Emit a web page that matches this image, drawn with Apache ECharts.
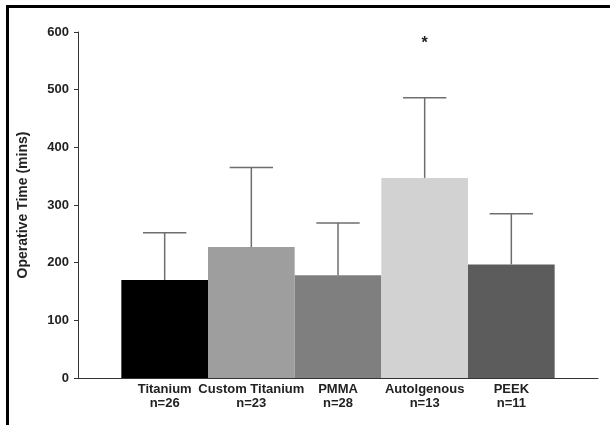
<!DOCTYPE html>
<html>
<head>
<meta charset="utf-8">
<script src="https://cdn.jsdelivr.net/npm/echarts@6/dist/echarts.min.js"></script>
<style>
  body { margin: 0; background: #fff; }
  #chart { width: 610px; height: 425px; }
  #frame { position: absolute; left: 6px; top: 5px; width: 604px; height: 420px;
           border-top: 3px solid #000; border-left: 3px solid #000; pointer-events: none; }
</style>
</head>
<body>
<div id="chart"></div>
<div id="frame"></div>
<script>
  var categories = ['Titanium', 'Custom Titanium', 'PMMA', 'Autolgenous', 'PEEK'];
  var counts = ['n=26', 'n=23', 'n=28', 'n=13', 'n=11'];
  var means = [170, 227, 178, 347, 197];
  var upper = [252, 365, 269, 486, 285];
  var marks = ['', '', '', '*', ''];
  var barColors = ['#000000', '#9e9e9e', '#7f7f7f', '#d2d2d2', '#5c5c5c'];
  var yTicks = [0, 100, 200, 300, 400, 500, 600];

  var font = 'Liberation Sans, Arial, sans-serif';

  var barData = means.map(function (v, i) {
    return { value: [i + 1, v], itemStyle: { color: barColors[i] } };
  });
  var errData = means.map(function (v, i) {
    return [i + 1, v, upper[i]];
  });

  var chart = echarts.init(document.getElementById('chart'));
  chart.setOption({
    animation: false,
    grid: { left: 78, right: 12, top: 32, bottom: 47 },
    xAxis: {
      type: 'value',
      min: 0,
      max: categories.length + 1,
      interval: 1,
      splitLine: { show: false },
      axisTick: { show: false },
      axisLine: { lineStyle: { color: '#333', width: 1 } },
      axisLabel: {
        margin: 4,
        color: '#222',
        fontFamily: font,
        fontWeight: 'bold',
        fontSize: 13,
        lineHeight: 14.5,
        formatter: function (v) {
          var i = v - 1;
          if (i < 0 || i >= categories.length) return '';
          return categories[i] + '\n' + counts[i];
        }
      }
    },
    yAxis: {
      type: 'value',
      min: yTicks[0],
      max: yTicks[yTicks.length - 1],
      interval: 100,
      name: 'Operative Time (mins)',
      nameLocation: 'middle',
      nameGap: 48,
      nameTextStyle: { color: '#222', fontFamily: font, fontWeight: 'bold', fontSize: 14 },
      splitLine: { show: false },
      axisLine: { show: true, lineStyle: { color: '#333', width: 1 } },
      axisTick: { show: true, length: 4, lineStyle: { color: '#333' } },
      axisLabel: { margin: 9, color: '#222', fontFamily: font, fontWeight: 'bold', fontSize: 13 }
    },
    series: [
      {
        type: 'bar',
        barWidth: '100%',
        data: barData
      },
      {
        type: 'custom',
        data: errData,
        z: 3,
        renderItem: function (params, api) {
          var x = api.value(0);
          var top = api.coord([x, api.value(2)]);
          var base = api.coord([x, api.value(1)]);
          var half = api.size([1, 0])[0] * 0.25;
          var style = { stroke: '#6e6e6e', lineWidth: 1.5 };
          var children = [
            { type: 'line', shape: { x1: top[0], y1: base[1], x2: top[0], y2: top[1] }, style: style },
            { type: 'line', shape: { x1: top[0] - half, y1: top[1], x2: top[0] + half, y2: top[1] }, style: style }
          ];
          var m = marks[params.dataIndex];
          if (m) {
            children.push({
              type: 'text',
              style: {
                text: m, x: top[0], y: top[1] - 54,
                align: 'center', verticalAlign: 'middle',
                font: 'bold 16px ' + font, fill: '#222'
              }
            });
          }
          return { type: 'group', children: children };
        }
      }
    ]
  });
</script>
</body>
</html>
